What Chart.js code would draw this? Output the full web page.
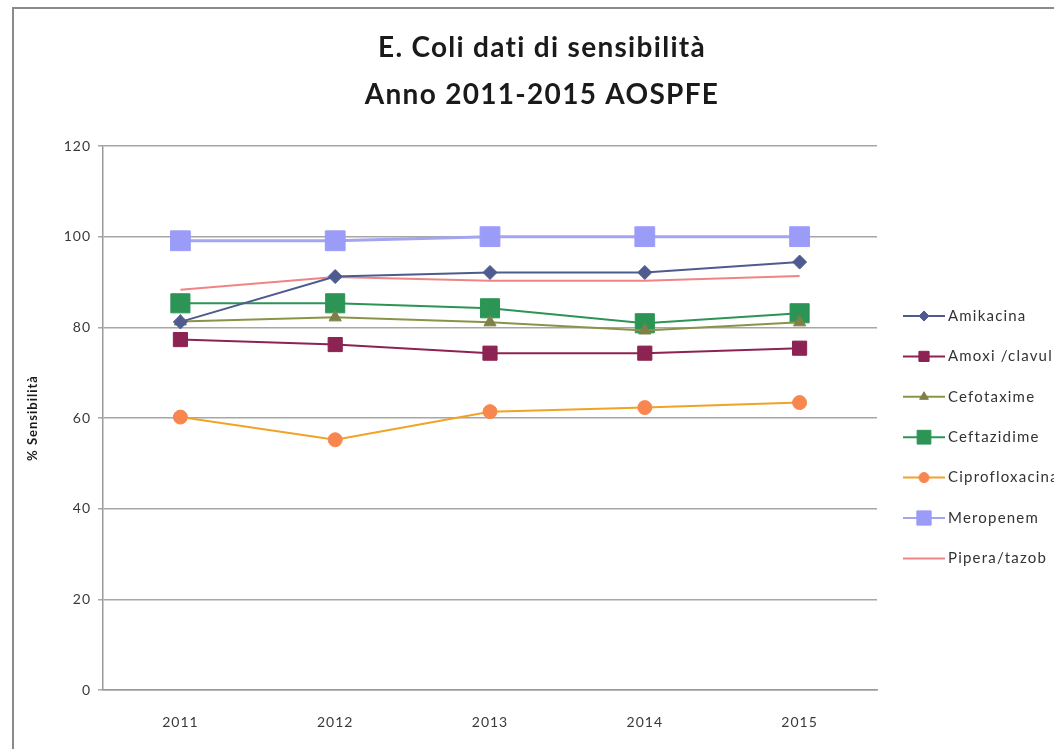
<!DOCTYPE html>
<html>
<head>
<meta charset="utf-8">
<script src="https://cdn.jsdelivr.net/npm/chart.js@4"></script>
<style>
  html, body { margin: 0; padding: 0; background: #fff; overflow: hidden; }
  #wrap { position: relative; width: 1054px; height: 749px; }
  #frame {
    position: absolute; left: 12px; top: 7px; width: 1100px; height: 800px;
    border-left: 2px solid #8a8a8a; border-top: 2px solid #8a8a8a;
    pointer-events: none;
  }
</style>
</head>
<body>
<div id="wrap">
  <canvas id="myChart" width="1054" height="749"></canvas>
  <div id="frame"></div>
</div>
<script>
const years = ["2011", "2012", "2013", "2014", "2015"];
const yTicks = [0, 20, 40, 60, 80, 100, 120];
const titleLines = ["E. Coli dati di sensibilità", "Anno 2011-2015 AOSPFE"];

const amikacina = [81.2, 91.2, 92.1, 92.1, 94.4];
const amoxiClavul = [77.3, 76.2, 74.3, 74.3, 75.4];
const cefotaxime = [81.3, 82.2, 81.1, 79.3, 81.1];
const ceftazidime = [85.3, 85.3, 84.2, 80.9, 83.1];
const ciprofloxacina = [60.2, 55.2, 61.4, 62.3, 63.4];
const meropenem = [99.1, 99.1, 100, 100, 100];
const piperaTazob = [88.3, 91.1, 90.3, 90.3, 91.3];

const font = "Lato, 'Open Sans', sans-serif";

function series(label, values, color, style, radius, width, pointColor) {
  return {
    label: label,
    data: values,
    borderColor: color,
    backgroundColor: pointColor || color,
    pointBackgroundColor: pointColor || color,
    pointBorderColor: pointColor || color,
    pointStyle: style,
    pointRadius: radius,
    pointHoverRadius: radius,
    pointBorderWidth: 1,
    borderWidth: width,
    tension: 0,
  };
}

const datasets = [
  series("Amikacina", amikacina, "#4f5a8f", "rectRot", 7, 2),
  series("Amoxi /clavul", amoxiClavul, "#8c2352", "rect", 10, 2),
  series("Cefotaxime", cefotaxime, "#8a9446", "triangle", 7, 2, "#7f7f48"),
  series("Ceftazidime", ceftazidime, "#2c9455", "rect", 13.5, 2),
  series("Ciprofloxacina", ciprofloxacina, "#f2a226", "circle", 7, 2, "#f7874f"),
  series("Meropenem", meropenem, "#a3a5ee", "rect", 14, 3, "#9a9cf8"),
  series("Pipera/tazob", piperaTazob, "#f08484", false, 0, 2),
];

// the old spreadsheet text is loosely spaced
const spacing = {
  id: "spacing",
  beforeDraw(chart) { chart.ctx.letterSpacing = "1px"; },
};

// title centred on the whole picture, not on the plot
const bigTitle = {
  id: "bigTitle",
  afterDraw(chart) {
    const ctx = chart.ctx;
    ctx.save();
    ctx.letterSpacing = "1.3px";
    ctx.fillStyle = "#1a1a1a";
    ctx.font = "bold 28px " + font;
    ctx.textAlign = "center";
    ctx.textBaseline = "middle";
    titleLines.forEach((t, i) => ctx.fillText(t, 542, 48 + i * 47));
    ctx.restore();
  },
};

// legend drawn as line + marker, like the spreadsheet original
const sideLegend = {
  id: "sideLegend",
  afterDraw(chart) {
    const ctx = chart.ctx;
    const x0 = 903, x1 = 945, top = 316, step = 40.4;
    ctx.save();
    chart.data.datasets.forEach((ds, i) => {
      const y = top + i * step;
      ctx.strokeStyle = ds.borderColor;
      ctx.lineWidth = 2;
      ctx.beginPath();
      ctx.moveTo(x0, y);
      ctx.lineTo(x1, y);
      ctx.stroke();
      if (ds.pointStyle) {
        ctx.fillStyle = ds.pointBackgroundColor;
        ctx.strokeStyle = ds.pointBorderColor;
        ctx.lineWidth = 1;
        Chart.helpers.drawPoint(ctx, {
          pointStyle: ds.pointStyle,
          radius: ds.pointRadius * 0.72,
          borderWidth: 1,
        }, (x0 + x1) / 2, y);
      }
      ctx.letterSpacing = "1.2px";
      ctx.fillStyle = "#333";
      ctx.font = "15px " + font;
      ctx.textBaseline = "middle";
      ctx.textAlign = "left";
      ctx.fillText(ds.label, x1 + 3, y);
    });
    ctx.restore();
  },
};

const config = {
  type: "line",
  data: { labels: years, datasets: datasets },
  options: {
    responsive: false,
    animation: false,
    layout: { padding: { top: 146, right: 177, bottom: 0, left: 0 } },
    plugins: {
      legend: { display: false },
      tooltip: { enabled: false },
      title: { display: false },
    },
    scales: {
      x: {
        offset: true,
        afterFit(scale) { scale.height = 59; },
        grid: { display: true, drawOnChartArea: false, drawTicks: false },
        border: { display: true, color: "#9a9a9a", width: 1.5 },
        ticks: { color: "#3a3a3a", font: { family: font, size: 14 }, padding: 24 },
      },
      y: {
        min: 0,
        max: 120,
        afterFit(scale) { scale.width = 103; },
        afterBuildTicks(scale) { scale.ticks = yTicks.map(v => ({ value: v })); },
        grid: { color: "#a6a6a6", lineWidth: 1.5, tickLength: 5 },
        border: { display: true, color: "#9a9a9a", width: 1.5 },
        ticks: { color: "#3a3a3a", font: { family: font, size: 14 }, padding: 7 },
        title: {
          display: true,
          text: "% Sensibilità",
          color: "#1a1a1a",
          font: { family: font, size: 13, weight: "bold" },
          padding: { top: 25, bottom: 0 },
        },
      },
    },
  },
  plugins: [spacing, bigTitle, sideLegend],
};

var myChart = new Chart(document.getElementById("myChart"), config);
</script>
</body>
</html>
